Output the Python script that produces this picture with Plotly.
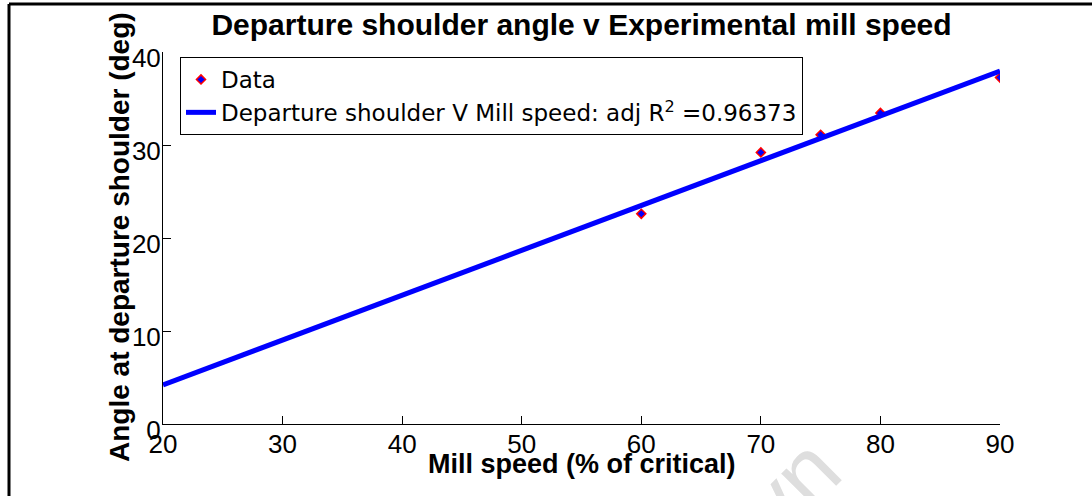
import numpy as np
import plotly.graph_objects as go

# Measured mill speed (% of critical) and departure shoulder angle (deg)
mill_speed = [60, 70, 75, 80, 90]
shoulder_angle = [22.6, 29.2, 31.1, 33.45, 37.25]

# Fit line is evaluated over the full x range of the axes
fit_x = [20, 90]
adj_r2_label = "0.96373"

x_ticks = [20, 30, 40, 50, 60, 70, 80, 90]
y_ticks = [0, 10, 20, 30, 40]

slope, intercept = np.polyfit(mill_speed, shoulder_angle, 1)
fit_y = [slope * v + intercept for v in fit_x]

W, H = 1092, 496
L, R, T, B = 163, 92, 52, 72
pw, ph = W - L - R, H - T - B


def px_x(p):
    return (p - L) / pw


def px_y(p):
    return (H - B - p) / ph


fig = go.Figure()

fig.add_trace(go.Scatter(
    x=mill_speed, y=shoulder_angle, mode="markers", name="Data",
    marker=dict(symbol="diamond", size=7, color="#0000ff",
                line=dict(color="#ff0000", width=1.5)),
))
fig.add_trace(go.Scatter(
    x=fit_x, y=fit_y, mode="lines",
    name="Departure shoulder V Mill speed: adj R<sup>2</sup> =" + adj_r2_label,
    line=dict(color="#0000ff", width=5),
))

tick_font = dict(family="Liberation Sans Narrow, Arial Narrow, Liberation Sans, Arial",
                 size=26, color="black")
bold = dict(family="Liberation Sans, Arial", color="black", weight="bold")

fig.update_xaxes(
    range=[20, 90], tickvals=x_ticks, ticktext=[str(v) for v in x_ticks],
    ticks="inside", ticklen=8, tickcolor="black", tickwidth=1,
    showline=True, linecolor="black", linewidth=1, mirror=False,
    showgrid=False, zeroline=False, tickfont=tick_font,
    ticklabelstandoff=-3,
)
fig.update_yaxes(
    range=[0, 40], tickvals=y_ticks, ticktext=[str(v) for v in y_ticks],
    ticks="inside", ticklen=8, tickcolor="black", tickwidth=1,
    showline=True, linecolor="black", linewidth=1, mirror=False,
    showgrid=False, zeroline=False, tickfont=tick_font,
    ticklabelstandoff=-4, ticklabelshift=6,
)

fig.update_layout(
    width=W, height=H,
    margin=dict(l=L, r=R, t=T, b=B, autoexpand=False),
    paper_bgcolor="white", plot_bgcolor="white",
    title=dict(text="Departure shoulder angle v Experimental mill speed",
               x=0.5, xref="paper", xanchor="center",
               y=1 - 24 / H, yref="container", yanchor="middle",
               font=dict(bold, size=30)),
    showlegend=True,
    legend=dict(
        x=px_x(180), y=px_y(57), xanchor="left", yanchor="top",
        bgcolor="white", bordercolor="black", borderwidth=1,
        font=dict(family="DejaVu Sans", size=23, color="black"),
        itemwidth=30,
    ),
    shapes=[
        # figure frame (left and top edges)
        dict(type="line", xref="paper", yref="paper",
             x0=px_x(9), x1=px_x(1100), y0=px_y(4), y1=px_y(4),
             line=dict(color="black", width=3)),
        dict(type="line", xref="paper", yref="paper",
             x0=px_x(9), x1=px_x(9), y0=px_y(4), y1=px_y(505),
             line=dict(color="black", width=3)),
    ],
    annotations=[
        # axis titles
        dict(text="Mill speed (% of critical)", xref="paper", yref="paper",
             x=0.5, y=px_y(464), xanchor="center", yanchor="middle",
             showarrow=False, font=dict(bold, size=27)),
        dict(text="Angle at departure shoulder (deg)", xref="paper", yref="paper",
             x=px_x(119), y=px_y(237), xanchor="center", yanchor="middle",
             textangle=-90, showarrow=False, font=dict(bold, size=28)),
        # faint background mark
        dict(text="vn", xref="paper", yref="paper", x=px_x(862), y=px_y(560),
             showarrow=False, textangle=-45,
             font=dict(family="Liberation Sans, Arial", size=90, color="#dedede")),
    ],
)

fig.write_html("out.html")
